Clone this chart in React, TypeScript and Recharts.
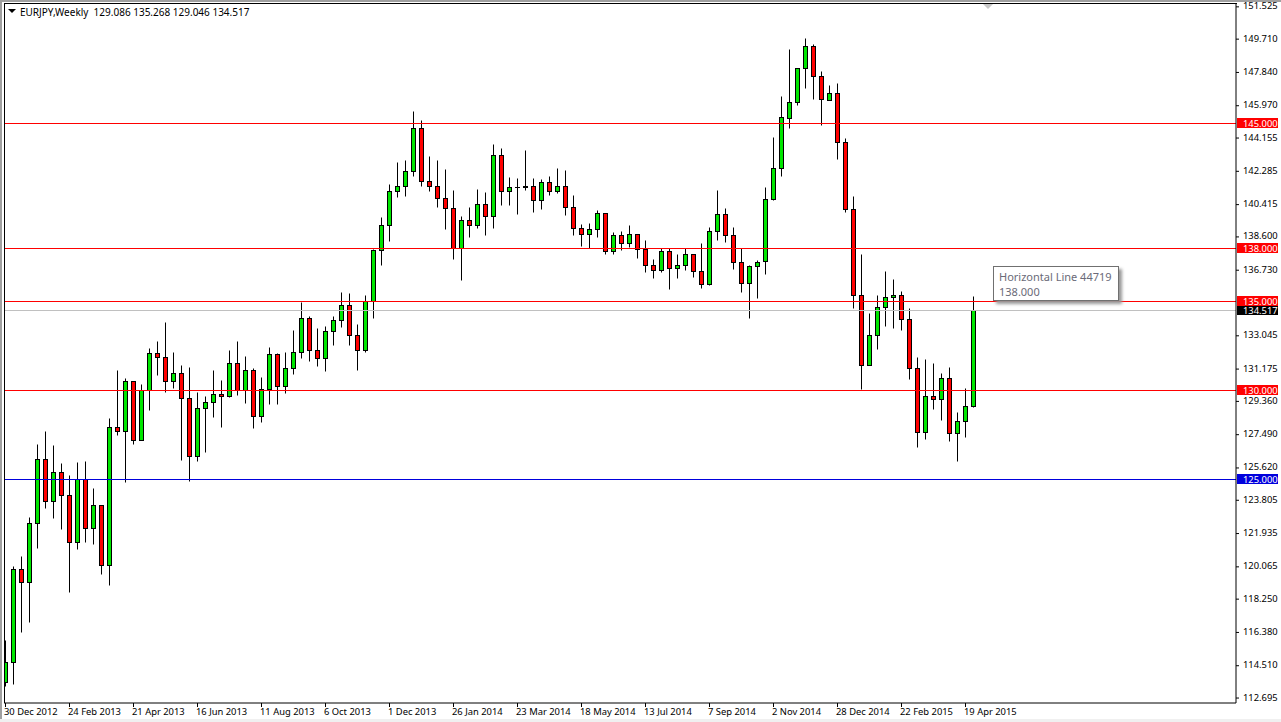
import React from "react";
import { ComposedChart, Bar, XAxis, YAxis, ReferenceLine } from "recharts";

const opens = [113.61,114.70,119.93,119.23,122.51,126.11,123.75,125.38,124.08,121.44,124.98,122.23,123.52,120.15,127.90,127.68,130.49,127.17,129.98,132.06,131.84,130.49,130.94,129.53,126.27,128.97,129.31,129.76,129.64,131.50,129.98,131.10,128.56,130.04,132.00,130.24,131.22,132.12,134.03,132.23,131.78,133.30,133.91,134.76,133.07,132.23,134.98,137.85,139.25,141.16,141.44,142.28,144.70,141.72,141.44,140.77,140.21,137.96,139.53,139.25,140.43,139.76,143.18,141.16,141.39,141.44,141.44,140.66,141.67,141.16,141.44,140.26,139.08,138.75,139.03,139.93,137.79,138.69,138.24,138.75,137.90,137.00,136.72,137.79,136.84,137.00,137.62,136.67,135.94,138.92,139.87,138.69,137.17,135.99,136.95,137.23,140.71,142.45,145.26,146.16,148.07,149.31,147.62,146.27,146.67,143.91,140.15,135.32,131.38,133.07,134.64,135.20,135.32,133.97,131.22,127.62,129.64,129.48,130.65,127.57,128.24,129.086];
const highs = [115.96,120.11,120.67,122.85,126.97,127.70,126.91,125.90,125.23,125.95,126.01,124.49,123.52,128.43,131.13,130.66,130.49,130.34,132.36,132.75,133.82,132.14,131.41,131.29,129.89,129.66,131.13,130.56,132.25,132.75,131.91,131.22,130.73,132.42,132.08,132.13,133.37,134.96,134.16,133.48,133.59,134.16,135.51,135.45,133.71,135.32,137.92,139.72,141.57,142.81,142.92,145.67,145.17,143.15,142.92,142.42,141.24,139.77,140.28,141.29,141.12,143.82,143.60,141.97,141.91,143.48,141.91,141.86,142.02,142.47,142.36,140.96,139.31,139.36,140.11,139.93,138.86,138.92,139.27,138.75,138.43,137.36,137.96,137.96,137.64,137.96,137.62,138.26,139.14,141.24,140.21,139.14,137.96,137.02,137.30,141.39,144.21,146.52,149.16,148.07,149.76,149.44,147.90,147.12,147.25,144.14,140.88,137.64,134.33,135.34,136.68,136.23,135.54,134.60,131.83,131.74,131.52,130.95,131.29,128.75,130.11,135.268];
const lows = [113.37,113.48,116.40,116.97,121.13,123.37,122.81,122.19,118.65,121.07,121.46,121.35,119.66,119.05,127.49,124.85,126.97,127.17,128.88,130.84,129.89,130.11,126.07,124.89,126.01,126.52,128.48,127.92,129.59,129.72,129.29,127.88,128.22,129.23,129.23,129.85,130.90,131.82,131.63,131.35,131.07,132.53,133.54,132.53,131.12,132.13,134.05,137.02,138.37,140.84,140.90,142.02,141.46,141.18,140.28,139.06,137.36,136.18,138.60,139.12,138.71,139.10,140.39,140.39,139.89,141.24,140.00,140.17,140.96,141.07,139.83,138.71,138.09,137.98,138.60,137.64,137.64,137.87,138.04,137.42,136.63,136.29,136.63,135.67,136.29,136.74,136.35,135.73,135.88,138.43,138.32,136.80,135.51,134.05,135.15,136.52,140.66,142.02,144.72,146.03,146.97,146.35,144.89,146.27,142.98,140.00,134.61,130.06,131.38,132.30,133.59,133.48,133.37,130.62,126.80,127.25,128.93,128.31,127.13,126.01,127.38,129.046];
const closes = [114.70,119.93,119.23,122.51,126.11,123.75,125.38,124.08,121.44,124.98,122.23,123.52,120.15,127.90,127.68,130.49,127.17,129.98,132.06,131.84,130.49,130.94,129.53,126.27,128.97,129.31,129.76,129.64,131.50,129.98,131.10,128.56,130.04,132.00,130.24,131.22,132.12,134.03,132.23,131.78,133.30,133.91,134.76,133.07,132.23,134.98,137.85,139.25,141.16,141.44,142.28,144.70,141.72,141.44,140.77,140.21,137.96,139.53,139.25,140.43,139.76,143.18,141.16,141.39,141.39,141.39,140.66,141.67,141.16,141.44,140.26,139.08,138.75,139.03,139.93,137.79,138.69,138.24,138.75,137.90,137.00,136.72,137.79,136.84,137.00,137.62,136.67,135.94,138.92,139.87,138.69,137.17,135.99,136.95,137.17,140.71,142.45,145.32,146.16,148.07,149.31,147.62,146.33,146.67,143.91,140.15,135.32,131.39,133.07,134.64,135.20,135.32,133.97,131.22,127.62,129.64,129.48,130.65,127.57,128.24,129.08,134.517];

const priceTicks = [151.525,149.71,147.84,145.97,144.155,142.285,140.415,138.6,136.73,133.045,131.175,129.36,127.49,125.62,123.805,121.935,120.065,118.25,116.38,114.51,112.695];
const dateTickIndexes = [0,8,16,24,32,40,48,56,64,72,80,88,96,104,112,120];
const dateLabels = ["30 Dec 2012","24 Feb 2013","21 Apr 2013","16 Jun 2013","11 Aug 2013","6 Oct 2013","1 Dec 2013","26 Jan 2014","23 Mar 2014","18 May 2014","13 Jul 2014","7 Sep 2014","2 Nov 2014","28 Dec 2014","22 Feb 2015","19 Apr 2015"];
const levels = [
  { value: 145, color: "#ff0000", label: "145.000", text: "#ffffff" },
  { value: 138, color: "#ff0000", label: "138.000", text: "#ffffff" },
  { value: 134.517, color: "#c0c0c0", label: "134.517", text: "#ffffff", box: "#000000" },
  { value: 135, color: "#ff0000", label: "135.000", text: "#ffffff" },
  { value: 130, color: "#ff0000", label: "130.000", text: "#ffffff" },
  { value: 125, color: "#0000dd", label: "125.000", text: "#ffffff" },
];

const rows = opens.map((open, i) => ({ i, open, high: highs[i], low: lows[i], close: closes[i] }));
const FONT = "'Noto Sans', sans-serif";
const axisText = { fontFamily: FONT, fontSize: "9.4px" };

const Candle = (props: any) => {
  const { x, y, width, height, payload } = props;
  const { open, high, low, close } = payload;
  const top = Math.min(y, y + height);
  const h = Math.abs(height);
  const k = h / (high - low);
  const toY = (p: number) => Math.round(top + (high - p) * k) + 0.5;
  const cx = Math.floor(x + width / 2) + 0.5;
  const up = close >= open;
  const bt = toY(Math.max(open, close));
  const bb = toY(Math.min(open, close));
  return (
    <g>
      <line x1={cx} x2={cx} y1={toY(high)} y2={toY(low)} stroke="#000" strokeWidth={1} />
      {bt === bb ? (
        <line x1={cx - 2.5} x2={cx + 2.5} y1={bt} y2={bt} stroke="#000" strokeWidth={1} />
      ) : (
        <rect x={cx - 2} y={bt} width={4} height={bb - bt} fill={up ? "#00e600" : "#ff0000"} stroke="#000" strokeWidth={1} />
      )}
    </g>
  );
};

const PriceTick = (props: any) => {
  const { y, payload } = props;
  return (
    <text x={1243} y={y + 2.5} style={axisText} fill="#000">
      {payload.value.toFixed(3)}
    </text>
  );
};

const DateTick = (props: any) => {
  const { x, payload } = props;
  const idx = dateTickIndexes.indexOf(payload.value);
  return (
    <text x={x - 1.5} y={715} style={axisText} fill="#000">
      {dateLabels[idx]}
    </text>
  );
};

const LevelLine = (level: any) => (props: any) => {
  const { x1, x2, y1 } = props;
  const y = Math.round(y1) + 0.5;
  return (
    <g>
      <line x1={x1} x2={x2} y1={y} y2={y} stroke={level.color} strokeWidth={1} />
      <rect x={1237} y={y - 5.5} width={41} height={10} fill={level.box || level.color} />
      <text x={1243} y={y + 3} style={axisText} fill={level.text}>
        {level.label}
      </text>
    </g>
  );
};

export default function App() {
  return (
    <div style={{ position: "fixed", left: 0, top: 0, width: 1281, height: 722, background: "#fff", overflow: "hidden" }}>
      <ComposedChart
        width={1281}
        height={722}
        data={rows}
        margin={{ top: 4, right: 0, bottom: 0, left: 4 }}
        barCategoryGap={0}
      >
        <XAxis
          dataKey="i"
          type="number"
          scale="linear"
          domain={[-0.1875, 153.8125]}
          ticks={dateTickIndexes}
          tick={<DateTick />}
          tickSize={4}
          height={19}
          stroke="#000"
          interval={0}
          allowDataOverflow
        />
        <YAxis
          orientation="right"
          type="number"
          domain={[112.416, 151.685]}
          ticks={priceTicks}
          tick={<PriceTick />}
          tickSize={3}
          width={45}
          stroke="#000"
          interval={0}
          allowDataOverflow
        />
        <Bar dataKey={(d: any) => [d.low, d.high]} barSize={7} shape={<Candle />} isAnimationActive={false} />
        {levels.map((lv) => (
          <ReferenceLine key={lv.label} y={lv.value} stroke={lv.color} shape={LevelLine(lv)} />
        ))}
      </ComposedChart>
      <div style={{ position: "absolute", left: 4, top: 3, width: 1233, height: 1, background: "#000" }} />
      <div style={{ position: "absolute", left: 4, top: 3, width: 1, height: 700, background: "#000" }} />
      <div style={{ position: "absolute", left: 0, top: 0, width: 1281, height: 2, background: "#a0a0a0" }} />
      <div style={{ position: "absolute", left: 0, top: 0, width: 2, height: 722, background: "#a0a0a0" }} />
      <div style={{ position: "absolute", left: 0, top: 719, width: 1281, height: 3, background: "#f0f0f0" }} />
      <div style={{ position: "absolute", left: 983, top: 4, width: 0, height: 0, borderLeft: "5px solid transparent", borderRight: "5px solid transparent", borderTop: "5px solid #c8c8c8" }} />
      <div style={{ position: "absolute", left: 8, top: 9, width: 0, height: 0, borderLeft: "4px solid transparent", borderRight: "4px solid transparent", borderTop: "4px solid #000" }} />
      <div style={{ position: "absolute", left: 20, top: 5, fontFamily: FONT, fontSize: 10, lineHeight: "14px", color: "#000", whiteSpace: "pre" }}>
        {"EURJPY,Weekly  129.086 135.268 129.046 134.517"}
      </div>
      <div style={{ position: "absolute", left: 993, top: 266, width: 124, height: 33, border: "1px solid #707070", background: "#fff", boxShadow: "3px 3px 3px #999", fontFamily: FONT, fontSize: 11, lineHeight: "15px", color: "#6a6a78", whiteSpace: "pre" }}>
        <div style={{ paddingLeft: 5, paddingTop: 2 }}>{"Horizontal Line 44719\n138.000"}</div>
      </div>
    </div>
  );
}
